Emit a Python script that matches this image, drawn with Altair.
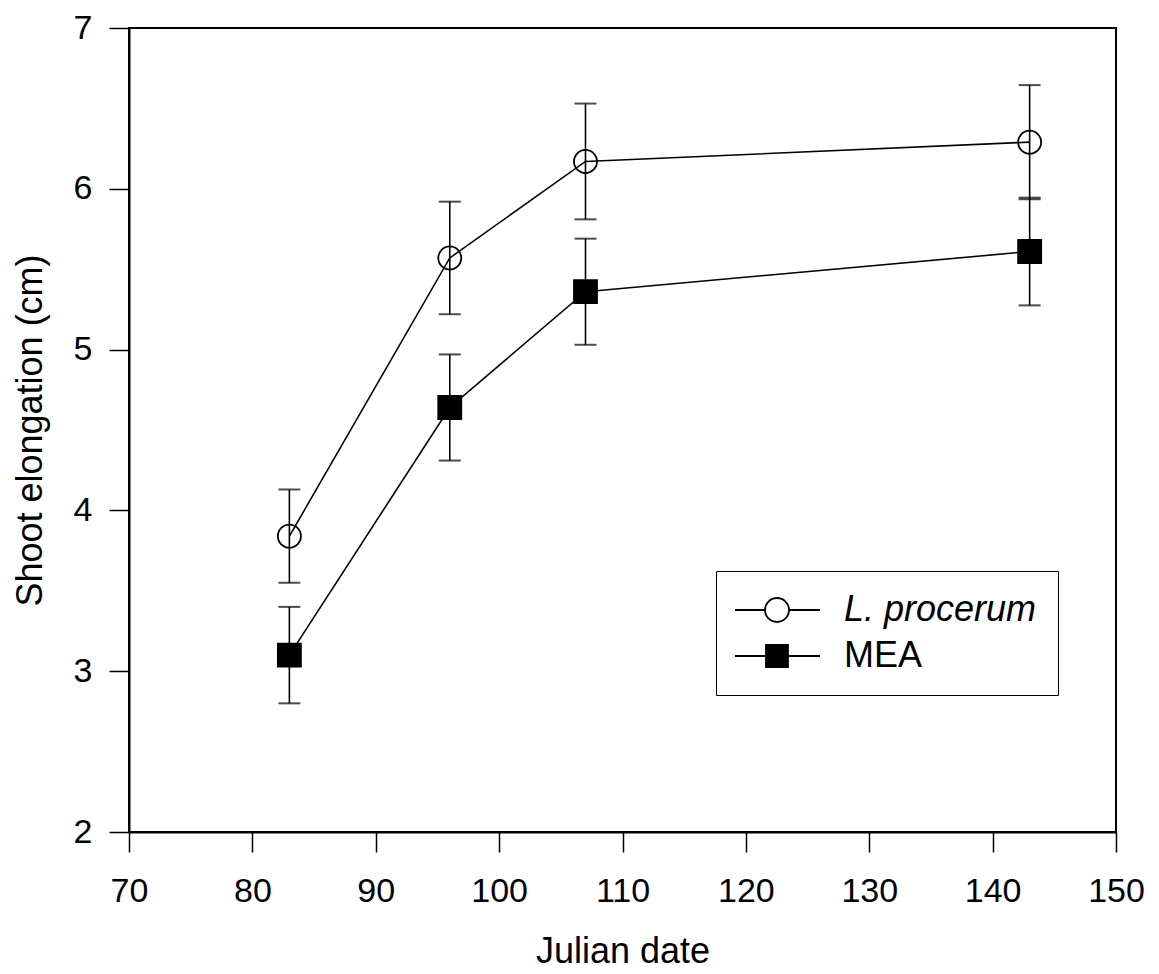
import altair as alt
import pandas as pd

# ---- data ----
julian = [83, 96, 107, 143]
series_names = ["L. procerum", "MEA"]
lproc_mean = [3.84, 5.57, 6.17, 6.29]
lproc_err = [0.29, 0.35, 0.36, 0.355]
mea_mean = [3.10, 4.64, 5.36, 5.61]
mea_err = [0.30, 0.33, 0.33, 0.335]
x_ticks = [70, 80, 90, 100, 110, 120, 130, 140, 150]
y_ticks = [2, 3, 4, 5, 6, 7]

rows = []
for name, means, errs in [(series_names[0], lproc_mean, lproc_err),
                          (series_names[1], mea_mean, mea_err)]:
    for d, m, e in zip(julian, means, errs):
        rows.append({"date": d, "value": m, "err": e, "series": name})
df = pd.DataFrame(rows)

FONT = "Liberation Sans"

# legend symbols: line + marker (custom paths, 1 unit = sqrt(symbolSize)/2 px)
CIRCLE_PATH = ("M-1.82,0H0.91M3.09,0H5.91"
               "M0.91,0A1.09,1.09 0 1,1 3.09,0A1.09,1.09 0 1,1 0.91,0")
SQUARE_PATH = ("M-1.82,0H1M3,0H5.91"
               "M1,-1H3V1H1Z")

LEG_X, LEG_Y, LEG_PAD, ROW_PAD, LABEL_FS = 587, 543, 21, 10, 36
common_legend = dict(
    title=None, orient="none", legendX=LEG_X, padding=LEG_PAD,
    rowPadding=ROW_PAD, symbolSize=484, symbolStrokeWidth=1.8,
    labelOffset=71, labelFont=FONT, labelFontSize=LABEL_FS,
    labelColor="black", labelLimit=400,
)

xs = alt.Scale(domain=[70, 150], nice=False, zero=False)
ys = alt.Scale(domain=[2, 7], nice=False, zero=False)

base = alt.Chart(df).transform_calculate(
    lo="datum.value - datum.err", hi="datum.value + datum.err"
)

x_enc = alt.X("date:Q", scale=xs,
              axis=alt.Axis(values=x_ticks, format="d", title="Julian date",
                            grid=False, tickSize=20, tickWidth=1.5,
                            domainWidth=2, labelPadding=22, titlePadding=26))
y_enc = alt.Y("value:Q", scale=ys,
              axis=alt.Axis(values=y_ticks, format="d",
                            title="Shoot elongation (cm)",
                            grid=False, tickSize=20, tickWidth=1.5,
                            domainWidth=2, labelPadding=17, titlePadding=24))

lines = base.mark_line(color="black", strokeWidth=1.6).encode(
    x=x_enc, y=y_enc, detail="series:N"
)

rules = base.mark_rule(color="black", strokeWidth=1.6).encode(
    x="date:Q", y="lo:Q", y2="hi:Q"
)

caps = base.transform_fold(["lo", "hi"], as_=["end", "endval"]).mark_tick(
    color="black", orient="horizontal", size=22, thickness=2
).encode(x="date:Q", y="endval:Q")

pts_l = base.transform_filter(alt.datum.series == series_names[0]).mark_point(
    shape="circle", size=530, fill="transparent", strokeWidth=1.8, opacity=1
).encode(
    x="date:Q", y="value:Q",
    stroke=alt.Stroke("series:N",
                      scale=alt.Scale(domain=series_names, range=["black", "transparent"]),
                      legend=alt.Legend(
                          legendY=LEG_Y, strokeColor="black",
                          symbolType=CIRCLE_PATH, labelFontStyle="italic",
                          labelExpr="datum.value === 'MEA' ? ' ' : datum.label",
                          **common_legend)),
)

pts_m = base.transform_filter(alt.datum.series == series_names[1]).mark_point(
    shape="square", size=530, filled=True, stroke="black", strokeWidth=1.8, opacity=1
).encode(
    x="date:Q", y="value:Q",
    color=alt.Color("series:N",
                    scale=alt.Scale(domain=[series_names[1]], range=["black"]),
                    legend=alt.Legend(
                        legendY=LEG_Y + LABEL_FS + ROW_PAD,
                        symbolType=SQUARE_PATH, symbolStrokeColor="black",
                        labelFontStyle="normal", **common_legend)),
)

chart = alt.layer(lines, rules, caps, pts_l, pts_m).properties(
    width=987, height=804,
    autosize=alt.AutoSizeParams(type="none"),
    padding={"left": 121, "top": 20, "right": 30, "bottom": 138},
    background="white",
).configure_view(
    stroke="black", strokeWidth=2
).configure_axis(
    labelFont=FONT, titleFont=FONT, labelFontSize=34, titleFontSize=36,
    labelColor="black", titleColor="black", tickColor="black",
    domainColor="black", titleFontWeight="normal", labelFlush=False,
    labelOverlap=False
)

chart.save("out.html", embed_options={"renderer": "svg", "actions": False})
